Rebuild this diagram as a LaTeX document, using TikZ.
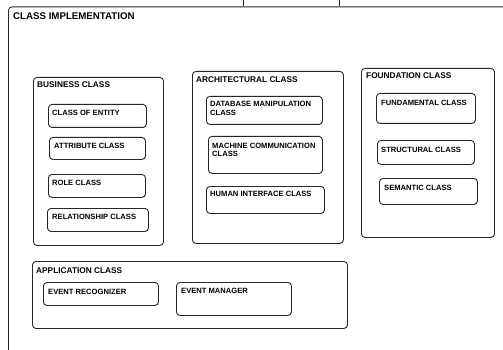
\documentclass[tikz,border=0pt]{standalone}
\usepackage{fontspec}
\setmainfont{Liberation Sans}
\begin{document}
\begin{tikzpicture}[x=1pt,y=-1pt,
  box/.style={draw=black!85, line width=0.9pt, rounded corners=3.5pt, inner sep=0pt, anchor=north west},
  lab/.style={anchor=base west, inner sep=0pt, font=\fontsize{7.6}{9}\selectfont\bfseries, align=left},
  grp/.style={anchor=base west, inner sep=0pt, font=\fontsize{8.3}{9}\selectfont\bfseries},
  ttl/.style={anchor=base west, inner sep=0pt, font=\fontsize{9.7}{10}\selectfont\bfseries}]
\useasboundingbox (0,0) rectangle (503,350);
\clip (0,0) rectangle (503,350);
% outer frame
\node[box, minimum width=530pt, minimum height=370pt] (outer) at (8,6.5) {};
\node[ttl] (outerlab) at (13,19.5) {CLASS IMPLEMENTATION};
% fragments at top
\coordinate (t1a) at (243,0); \coordinate (t1b) at (243,6);
\coordinate (t2a) at (339,0); \coordinate (t2b) at (339,6);
\draw[black!85, line width=0.9pt] (t1a) -- (t1b) (t2a) -- (t2b);
% business
\node[box, minimum width=130pt, minimum height=168pt] (bus) at (33,77) {};
\node[grp] (buslab) at (37,88) {BUSINESS CLASS};
\node[box, minimum width=98pt, minimum height=23pt] (ent) at (48,104) {};
\node[lab] (entlab) at (52,116) {CLASS OF ENTITY};
\node[box, minimum width=96pt, minimum height=22pt] (att) at (49,137) {};
\node[lab] (attlab) at (54,148) {ATTRIBUTE CLASS};
\node[box, minimum width=97pt, minimum height=23pt] (rol) at (48,174) {};
\node[lab] (rollab) at (52,185) {ROLE CLASS};
\node[box, minimum width=101pt, minimum height=23pt] (rel) at (47,208) {};
\node[lab] (rellab) at (52,219) {RELATIONSHIP CLASS};
% architectural
\node[box, minimum width=151pt, minimum height=172pt] (arc) at (192,71) {};
\node[grp] (arclab) at (196,83) {ARCHITECTURAL CLASS};
\node[box, minimum width=116pt, minimum height=28pt] (db) at (206,96) {};
\node[lab] (dblab1) at (210,107) {DATABASE MANIPULATION};
\node[lab] (dblab2) at (210,116) {CLASS};
\node[box, minimum width=114pt, minimum height=37pt] (mac) at (208,136) {};
\node[lab] (maclab1) at (212,148) {MACHINE COMMUNICATION};
\node[lab] (maclab2) at (212,157) {CLASS};
\node[box, minimum width=118pt, minimum height=27pt] (hum) at (206,186) {};
\node[lab] (humlab) at (210,196) {HUMAN INTERFACE CLASS};
% foundation
\node[box, minimum width=133pt, minimum height=169pt] (fou) at (361,68) {};
\node[grp] (foulab) at (366,79) {FOUNDATION CLASS};
\node[box, minimum width=99pt, minimum height=30pt] (fun) at (376,93) {};
\node[lab] (funlab) at (381,106) {FUNDAMENTAL CLASS};
\node[box, minimum width=97pt, minimum height=24pt] (str) at (377,140) {};
\node[lab] (strlab) at (381,152) {STRUCTURAL CLASS};
\node[box, minimum width=98pt, minimum height=26pt] (sem) at (379,178) {};
\node[lab] (semlab) at (384,190) {SEMANTIC CLASS};
% application
\node[box, minimum width=315pt, minimum height=67pt] (app) at (32,261) {};
\node[grp] (applab) at (36,273) {APPLICATION CLASS};
\node[box, minimum width=115pt, minimum height=23pt] (rec) at (43,282) {};
\node[lab] (reclab) at (48,294) {EVENT RECOGNIZER};
\node[box, minimum width=115pt, minimum height=33pt] (man) at (176,282) {};
\node[lab] (manlab) at (181,293) {EVENT MANAGER};
\end{tikzpicture}
\end{document}
